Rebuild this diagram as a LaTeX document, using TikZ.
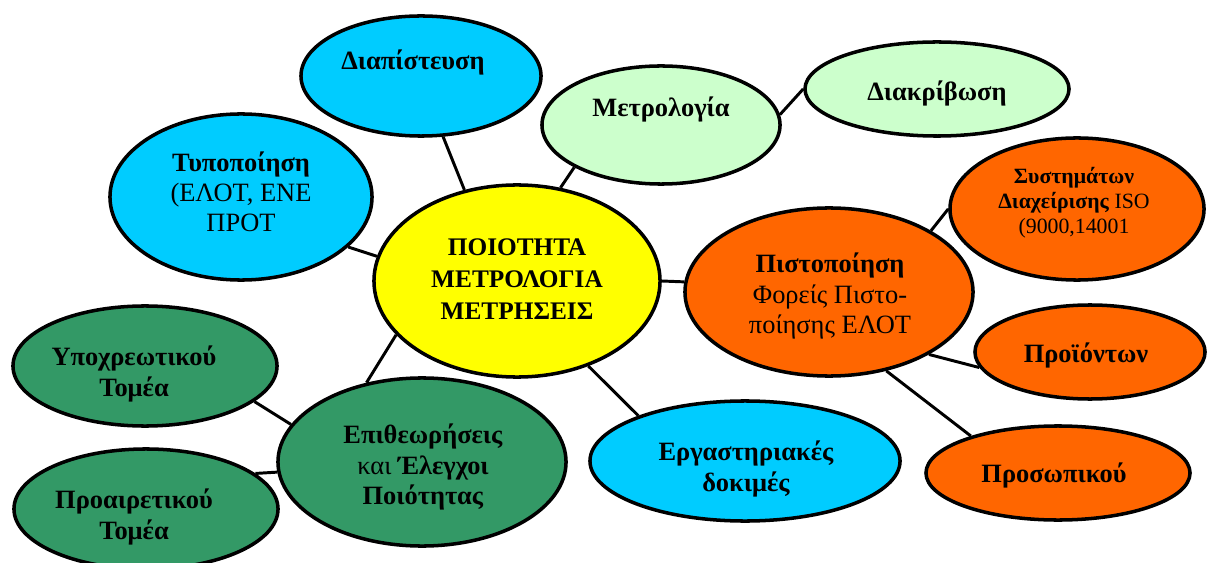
\documentclass[tikz,border=0pt]{standalone}
\usepackage{fontspec}
\setmainfont{Liberation Serif}
\usetikzlibrary{shapes.geometric}
\definecolor{cyanc}{HTML}{00CCFF}
\definecolor{lgreen}{HTML}{CCFFCC}
\definecolor{yell}{HTML}{FFFF00}
\definecolor{orng}{HTML}{FF6600}
\definecolor{dgreen}{HTML}{339966}
\tikzset{
  bub/.style={ellipse, draw=black, line width=2.5pt, inner sep=0pt},
  lnk/.style={line width=2.1pt, draw=black},
  txt/.style={align=center, inner sep=0pt, font=\fontsize{18.8}{21.5}\selectfont},
  smalltxt/.style={align=center, inner sep=0pt, font=\fontsize{15.5}{17.8}\selectfont},
  centtxt/.style={align=center, inner sep=0pt, font=\fontsize{18}{22.8}\selectfont\bfseries}
}
\begin{document}
\begin{tikzpicture}[x=0.025cm, y=-0.025cm]
\useasboundingbox (0,0) rectangle (1207,563);
% ellipses
\node[bub, fill=cyanc,  minimum width=6.0cm,  minimum height=3.0cm]  (diap)   at (421,76)  {};
\node[bub, fill=cyanc,  minimum width=6.55cm, minimum height=4.15cm] (typ)    at (241,197) {};
\node[bub, fill=lgreen, minimum width=5.95cm, minimum height=2.95cm] (metro)  at (661,125) {};
\node[bub, fill=lgreen, minimum width=6.6cm,  minimum height=2.35cm] (diak)   at (937,89)  {};
\node[bub, fill=orng,   minimum width=6.35cm, minimum height=3.55cm] (sys)    at (1077,209) {};
\node[bub, fill=yell,   minimum width=7.15cm, minimum height=4.8cm]  (cen)    at (517,281) {};
\node[bub, fill=orng,   minimum width=7.2cm,  minimum height=4.2cm]  (pist)   at (829,292) {};
\node[bub, fill=orng,   minimum width=5.75cm, minimum height=2.35cm] (proi)   at (1090,352) {};
\node[bub, fill=orng,   minimum width=6.6cm,  minimum height=2.35cm] (pros)   at (1058,473) {};
\node[bub, fill=cyanc,  minimum width=7.75cm, minimum height=3.0cm]  (erg)    at (745,461) {};
\node[bub, fill=dgreen, minimum width=7.2cm,  minimum height=4.2cm]  (epit)   at (422,462) {};
\node[bub, fill=dgreen, minimum width=6.6cm,  minimum height=3.0cm]  (ypo)    at (145,366) {};
\node[bub, fill=dgreen, minimum width=6.6cm,  minimum height=3.0cm]  (proair) at (146,509) {};
% connectors
\draw[lnk] (diap.-70.5) -- (cen.120.7);
\draw[lnk] (typ.-25.9) -- (cen.170.7);
\draw[lnk] (metro.206.3) -- (cen.65.9);
\draw[lnk] (metro.5.7) -- (diak.180);
\draw[lnk] (cen.-0.4) -- (pist.176);
\draw[lnk] (pist.31.8) -- (sys.180.4);
\draw[lnk] (pist.-32) -- (proi.188);
\draw[lnk] (pist.-54.9) -- (pros.157.9);
\draw[lnk] (cen.-50.5) -- (erg.157.5);
\draw[lnk] (cen.204.1) -- (epit.125.3);
\draw[lnk] (ypo.-18.7) -- (epit.164.9);
\draw[lnk] (proair.18.4) -- (epit.184.4);
% texts
\node[txt] (tdiap) at (413,62) {\textbf{Διαπίστευση}};
\node[txt] (ttyp) at (241,192) {\textbf{Τυποποίηση}\\(ΕΛΟΤ, ΕΝΕ\\ΠΡΟΤ};
\node[txt] (tmetro) at (661,109) {\textbf{Μετρολογία}};
\node[txt] (tdiak) at (937,93) {\textbf{Διακρίβωση}};
\node[smalltxt] (tsys) at (1074,203) {\textbf{Συστημάτων}\\\textbf{Διαχείρισης} ISO\\(9000,14001};
\node[centtxt] (tcen) at (517,279) {ΠΟΙΟΤΗΤΑ\\ΜΕΤΡΟΛΟΓΙΑ\\ΜΕΤΡΗΣΕΙΣ};
\node[txt] (tpist) at (830,296) {\textbf{Πιστοποίηση}\\Φορείς Πιστο-\\ποίησης ΕΛΟΤ};
\node[txt] (tproi) at (1086,355) {\textbf{Προϊόντων}};
\node[txt] (tpros) at (1054,475) {\textbf{Προσωπικού}};
\node[txt] (terg) at (746,469) {\textbf{Εργαστηριακές}\\\textbf{δοκιμές}};
\node[txt] (tepit) at (423,467) {\textbf{Επιθεωρήσεις}\\και \textbf{Έλεγχοι}\\\textbf{Ποιότητας}};
\node[txt] (typo) at (134,374) {\textbf{Υποχρεωτικού}\\\textbf{Τομέα}};
\node[txt] (tproair) at (134,517) {\textbf{Προαιρετικού}\\\textbf{Τομέα}};
\end{tikzpicture}
\end{document}
